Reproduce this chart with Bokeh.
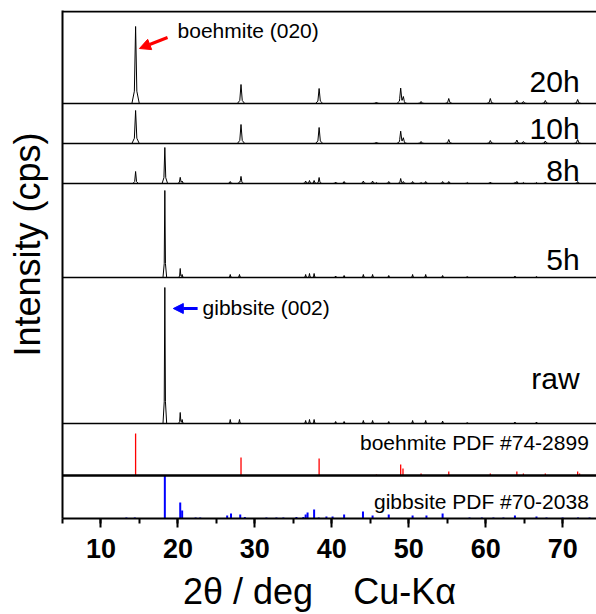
import numpy as np
from bokeh.plotting import figure
from bokeh.models import Range1d, Span, Label, Arrow, NormalHead, SingleIntervalTicker, FixedTicker
from bokeh.embed import file_html
from bokeh.resources import INLINE

# ---------------- data (2theta in deg, intensity in display units) ----------------
X0, X1 = 5.0, 74.4

# boehmite reflections seen in the milled samples
bo_pos = [14.5, 28.2, 38.35, 45.8, 48.95, 49.3, 51.6, 55.2, 60.6, 64.05, 64.9, 67.75, 71.95]
h20_bo = [77, 19, 15, 1.5, 15, 6, 2, 5, 5, 3, 2, 3, 4]
h10_bo = [33, 19, 16, 1.5, 12, 5, 2, 4, 3, 3.5, 2, 2.5, 4]
h8_bo = [12, 7, 6, 1, 5, 2, 1, 2, 1.5, 2, 1, 1.5, 2]

# gibbsite reflections
gi_pos = [18.3, 20.3, 20.55, 26.8, 28.0, 36.6, 37.1, 37.7, 40.5, 41.6, 44.1, 45.3, 47.4, 50.5, 52.2, 54.4, 57.6, 63.8, 66.6]
h8_gi = [36, 6, 2, 2, 1, 2.5, 3, 3, 1.5, 2, 2.5, 2.5, 2, 2, 2, 2, 1, 1, 1]
h5_gi = [87, 9, 3, 3, 3, 3, 4, 4, 1.5, 2, 3, 3, 2, 3, 3, 2, 1, 1.5, 1]
hraw_gi = [136, 11, 4, 4, 4, 3, 4, 4, 2, 2, 3, 3, 2, 3, 3, 2.5, 1, 1.5, 1.5]

# reference patterns (stick lines)
bpdf_pos = [14.5, 28.2, 38.35, 45.8, 48.95, 49.25, 51.6, 55.2, 60.6, 64.05, 64.9, 67.75, 71.95, 72.2]
bpdf_h = [42, 18, 17, 1, 11, 7, 2, 4, 2, 4, 2, 2, 4, 2]
gpdf_pos = [13.3, 14.4, 18.3, 20.3, 20.55, 22.3, 22.9, 26.4, 26.9, 28.1, 28.7, 31.5, 32.8, 33.7,
            35.4, 36.3, 36.6, 36.85, 37.7, 38.3, 39.3, 40.1, 41.6, 44.05, 45.3, 47.4, 50.5,
            52.3, 54.4, 57.9, 59.5, 61.0, 62.3, 63.8, 66.6, 67.9, 70.0, 72.0, 73.5]
gpdf_h = [1, 1, 43, 16, 8, 1, 1, 3, 5, 4, 1.5, 1, 1, 1, 1.5, 1.5, 4, 6, 9, 1, 2, 2, 4, 7, 3, 4, 3,
          3, 5, 1, 1, 1, 1, 3, 2, 1, 1, 1, 1]

sample_names = ["20h", "10h", "8h", "5h", "raw"]
sample_offsets = [415, 375, 335, 241, 95]
bpdf_offset = 43
gpdf_offset = 0

SHAPE_D = np.array([-3.0, -1.0, 0.0, 1.0, 3.0])
SHAPE_F = np.array([0.0, 0.16, 1.0, 0.16, 0.0])


def profile(pos_list, h_list, hw):
    pos = np.concatenate([np.asarray(p, float) for p in pos_list])
    hts = np.concatenate([np.asarray(h, float) for h in h_list])
    knots = np.concatenate([[X0, X1]] + [pos + d * hw for d in SHAPE_D])
    xs = np.unique(knots[(knots >= X0) & (knots <= X1)])
    ys = np.zeros_like(xs)
    for p_, h_ in zip(pos, hts):
        ys += np.interp(xs, p_ + hw * SHAPE_D, h_ * SHAPE_F, left=0, right=0)
    return xs, ys


patterns = [
    ([bo_pos], [h20_bo], 0.16),
    ([bo_pos], [h10_bo], 0.16),
    ([bo_pos, gi_pos], [h8_bo, h8_gi], 0.12),
    ([gi_pos], [h5_gi], 0.08),
    ([gi_pos], [hraw_gi], 0.08),
]

FONT = "Liberation Sans"
NB = "\u00a0"

p = figure(frame_width=534, frame_height=508, x_range=Range1d(X0, X1), y_range=Range1d(0, 508),
           output_backend="svg", toolbar_location=None,
           min_border_top=10, min_border_right=0, min_border_left=62, min_border_bottom=0)
p.xgrid.visible = False
p.ygrid.visible = False
p.outline_line_color = None
p.background_fill_color = "white"

# separators
for off in sample_offsets:
    p.add_layout(Span(location=off, dimension="width", line_color="black", line_width=1.3))
p.add_layout(Span(location=bpdf_offset, dimension="width", line_color="black", line_width=2.5))
p.add_layout(Span(location=507, dimension="width", line_color="black", line_width=2))

# measured patterns
for (pl, hl, hw), off in zip(patterns, sample_offsets):
    xs, ys = profile(pl, hl, hw)
    p.line(xs, ys + off, line_color="black", line_width=1)

# stick patterns
p.segment(x0=bpdf_pos, y0=[bpdf_offset] * len(bpdf_pos), x1=bpdf_pos,
          y1=[bpdf_offset + h for h in bpdf_h], line_color="red", line_width=1.3)
p.segment(x0=gpdf_pos, y0=[gpdf_offset] * len(gpdf_pos), x1=gpdf_pos,
          y1=[gpdf_offset + h for h in gpdf_h], line_color="blue", line_width=2)


def add_text(x, y, text, size, align="left"):
    p.add_layout(Label(x=x, y=y, text=text, text_align=align, text_baseline="alphabetic",
                       text_font=FONT, text_font_size=size, text_color="black"))


# sample labels
label_y = [437, 390, 348, 259, 140]
for name, ly in zip(sample_names, label_y):
    add_text(72.2, ly, name, "30px", "right")

add_text(73.4, 76.5, "boehmite PDF #74-2899", "21px", "right")
add_text(73.4, 17.5, "gibbsite PDF #70-2038", "21px", "right")
add_text(19.95, 488.5, "boehmite (020)", "21px")
add_text(23.2, 211.5, "gibbsite (002)", "21px")

p.add_layout(Arrow(end=NormalHead(size=11, fill_color="red", line_color="red"),
                   x_start=18.65, y_start=481, x_end=15.0, y_end=470,
                   line_color="red", line_width=3))
p.add_layout(Arrow(end=NormalHead(size=10, fill_color="blue", line_color="blue"),
                   x_start=22.56, y_start=210, x_end=19.4, y_end=210,
                   line_color="blue", line_width=3))

# axes
xa = p.xaxis[0]
xa.ticker = SingleIntervalTicker(interval=10, num_minor_ticks=2)
xa.axis_line_width = 2
xa.major_tick_line_width = 2
xa.minor_tick_line_width = 2
xa.major_tick_out = 9
xa.major_tick_in = 0
xa.minor_tick_out = 5
xa.minor_tick_in = 0
xa.major_label_text_font = FONT
xa.major_label_text_font_size = "27px"
xa.major_label_text_font_style = "bold"
xa.major_label_text_color = "black"
xa.major_label_standoff = 11
xa.axis_label = "2θ / deg" + NB * 4 + "Cu-Kα" + NB * 2
xa.axis_label_text_font = FONT
xa.axis_label_text_font_size = "36px"
xa.axis_label_text_font_style = "normal"
xa.axis_label_text_color = "black"
xa.axis_label_text_line_height = 0.8
xa.axis_label_standoff = 10

ya = p.yaxis[0]
ya.ticker = FixedTicker(ticks=[])
ya.axis_line_width = 2
ya.major_tick_out = 0
ya.major_tick_in = 0
ya.minor_tick_out = 0
ya.minor_tick_in = 0
ya.axis_label = NB * 4 + "Intensity (cps)"
ya.axis_label_text_font = FONT
ya.axis_label_text_font_size = "36px"
ya.axis_label_text_font_style = "normal"
ya.axis_label_text_color = "black"
ya.axis_label_standoff = 15

open("out.html", "w").write(file_html(p, INLINE))
